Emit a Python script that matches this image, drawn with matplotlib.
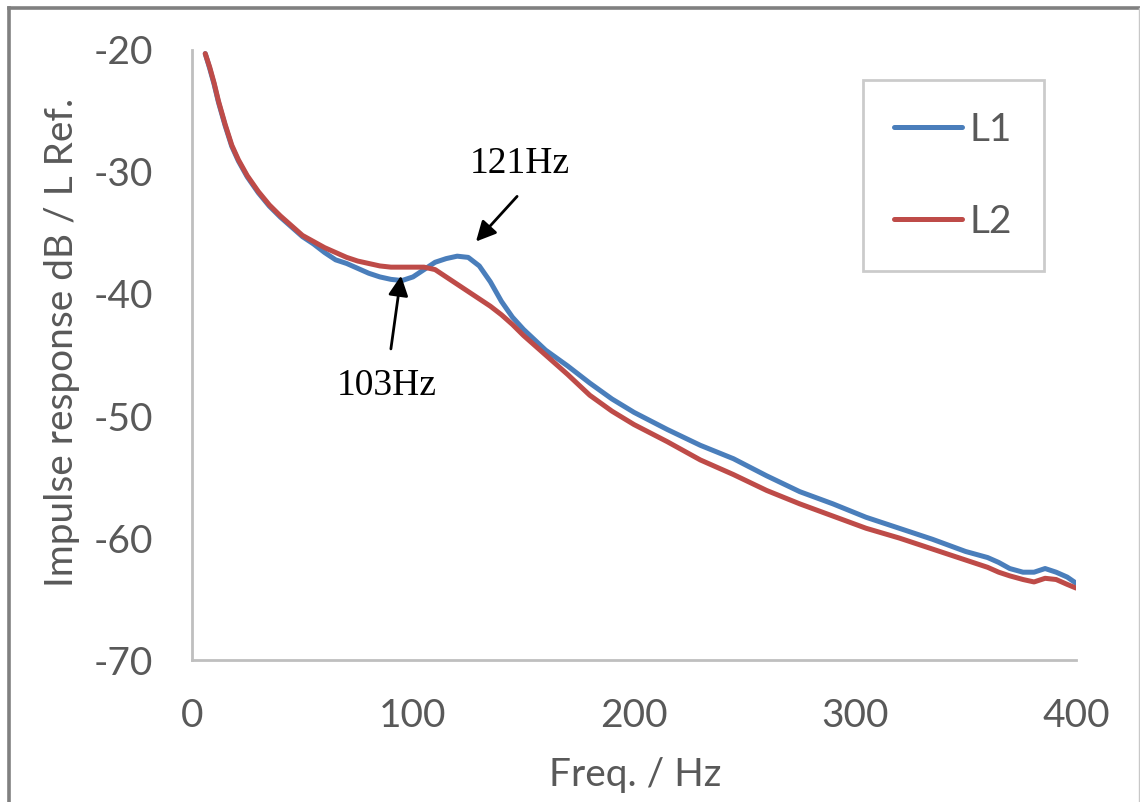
import matplotlib
matplotlib.use("Agg")
import matplotlib.pyplot as plt
from matplotlib.lines import Line2D

# Frequency grid (Hz) and measured impulse response levels (dB re. L Ref.)
freq = [6, 8, 10, 12, 15, 18, 21, 25, 30, 35, 40, 45, 50, 55, 60, 65, 70, 75,
        80, 85, 90, 95, 100, 105, 110, 115, 120, 125, 130, 135, 140, 145, 150,
        160, 170, 180, 190, 200, 215, 230, 245, 260, 275, 290, 305, 320, 335,
        350, 360, 365, 370, 376, 381, 386, 391, 396, 400]

l1 = [-20.3, -21.5, -22.8, -24.3, -26.2, -27.9, -29.1, -30.4, -31.7, -32.8,
      -33.7, -34.5, -35.3, -35.9, -36.6, -37.2, -37.5, -37.9, -38.3, -38.6,
      -38.8, -38.9, -38.6, -38.0, -37.4, -37.1, -36.9, -37.0, -37.7, -39.0,
      -40.6, -41.9, -42.9, -44.6, -45.9, -47.3, -48.6, -49.7, -51.1, -52.4,
      -53.5, -54.9, -56.2, -57.2, -58.3, -59.2, -60.1, -61.1, -61.6, -62.0,
      -62.5, -62.8, -62.8, -62.5, -62.8, -63.2, -63.7]

l2 = [-20.3, -21.4, -22.7, -24.2, -26.1, -27.8, -29.0, -30.3, -31.6, -32.7,
      -33.6, -34.4, -35.2, -35.7, -36.2, -36.6, -37.0, -37.3, -37.5, -37.7,
      -37.8, -37.8, -37.8, -37.8, -38.0, -38.6, -39.2, -39.8, -40.4, -41.0,
      -41.7, -42.5, -43.4, -45.0, -46.6, -48.3, -49.6, -50.7, -52.1, -53.6,
      -54.8, -56.1, -57.2, -58.2, -59.2, -60.0, -60.9, -61.8, -62.4, -62.8,
      -63.1, -63.4, -63.6, -63.3, -63.4, -63.8, -64.1]

series_names = ["L1", "L2"]
x_ticks = [0, 100, 200, 300, 400]
y_ticks = [-70, -60, -50, -40, -30, -20]

BLUE = "#4A7EBB"
RED = "#BE4B48"
AXIS_GREY = "#BFBFBF"
TEXT_GREY = "#595959"

plt.rcParams["font.family"] = ["Lato", "DejaVu Sans"]
plt.rcParams["axes.unicode_minus"] = False

fig = plt.figure(figsize=(11.40, 8.02), dpi=100)
ax = fig.add_axes([0.1684, 0.177, 0.7755, 0.7607])

ax.plot(freq, l1, color=BLUE, lw=3.6, label=series_names[0], solid_capstyle="round")
ax.plot(freq, l2, color=RED, lw=3.6, label=series_names[1], solid_capstyle="round")

ax.set_xlim(0, 400)
ax.set_ylim(-70, -20)
ax.set_xticks(x_ticks)
ax.set_yticks(y_ticks)
ax.tick_params(axis="both", length=0, labelsize=28, labelcolor=TEXT_GREY)
ax.tick_params(axis="y", pad=28)
ax.tick_params(axis="x", pad=27)

for side in ("top", "right"):
    ax.spines[side].set_visible(False)
for side in ("left", "bottom"):
    ax.spines[side].set_color(AXIS_GREY)
    ax.spines[side].set_linewidth(2.0)

ax.set_xlabel("Freq. / Hz", fontsize=28, color=TEXT_GREY)
ax.set_ylabel("Impulse response dB / L Ref.", fontsize=28, color=TEXT_GREY)
ax.xaxis.set_label_coords(0.501, -0.189)
ax.yaxis.set_label_coords(-0.147, 0.521)
ax.xaxis.label.set_va("center")
ax.yaxis.label.set_va("center")

# Legend box in the upper right
leg = ax.legend(loc="upper left", bbox_to_anchor=(0.759, 0.95), fontsize=28,
                frameon=True, fancybox=False, handlelength=1.75,
                handletextpad=0.2, labelspacing=1.45, borderpad=0.8,
                borderaxespad=0)
leg.get_frame().set_edgecolor(AXIS_GREY)
leg.get_frame().set_linewidth(2.0)
for t in leg.get_texts():
    t.set_color(TEXT_GREY)

# Resonance annotations: arrow tip, arrow tail and label centre (data coords)
serif = ["Liberation Serif", "DejaVu Serif"]
notes = [
    ("121Hz", (128.5, -35.7), (147.1, -32.0), (148.4, -29.3)),
    ("103Hz", (94.6, -38.5), (90.0, -44.5), (88.2, -47.5)),
]
for text, tip, tail, pos in notes:
    ax.annotate("", xy=tip, xytext=tail,
                arrowprops=dict(arrowstyle="-|>", color="black", lw=2.0,
                                mutation_scale=30, shrinkA=0, shrinkB=0))
    ax.text(pos[0], pos[1], text, fontsize=27, family=serif,
            ha="center", va="center", color="black")

# Outer chart frame
W, H = 1140.0, 802.0
fig.add_artist(Line2D([9 / W, 9 / W], [0, 1 - 8 / H], color="#808080", lw=2.6,
                      transform=fig.transFigure))
fig.add_artist(Line2D([9 / W, 1138.5 / W], [1 - 8 / H, 1 - 8 / H], color="#808080",
                      lw=2.6, transform=fig.transFigure))
fig.add_artist(Line2D([1138.5 / W, 1138.5 / W], [0, 1 - 8 / H], color="#C8C8C8",
                      lw=1.0, transform=fig.transFigure))

fig.savefig("out.png", dpi=100)
